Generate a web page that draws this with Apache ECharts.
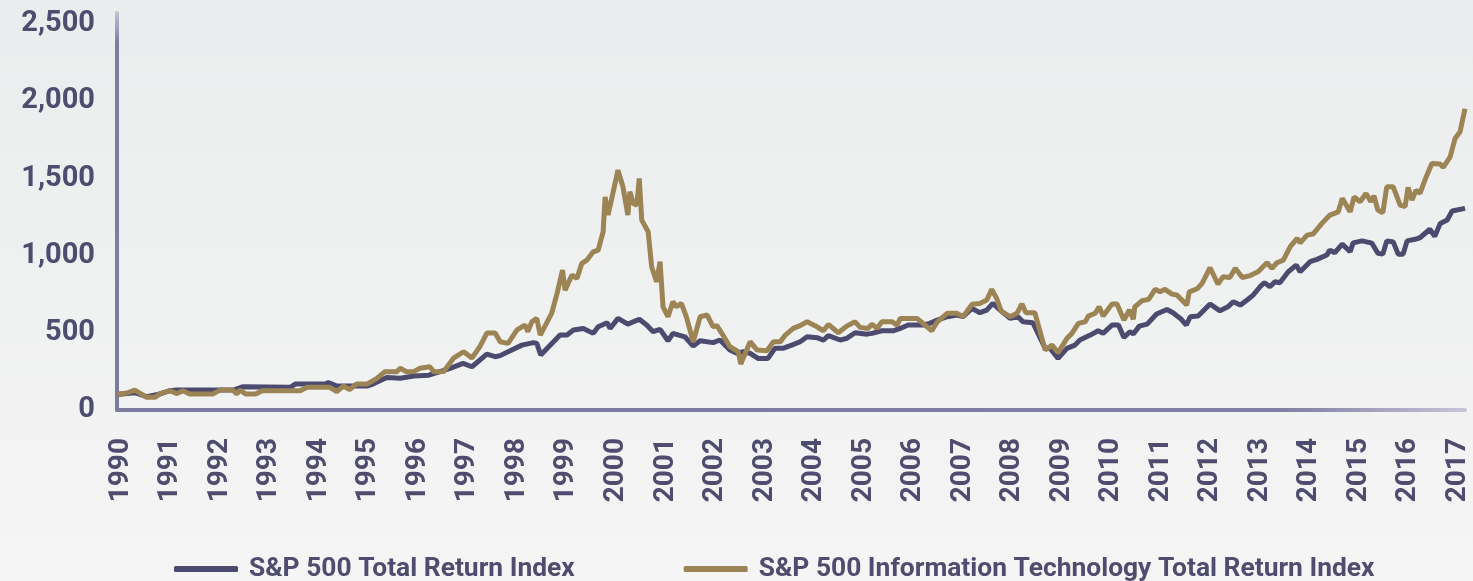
<!DOCTYPE html>
<html>
<head>
<meta charset="utf-8">
<script src="https://cdn.jsdelivr.net/npm/echarts@6/dist/echarts.min.js"></script>
<style>
  html, body { margin: 0; padding: 0; }
  #chart { width: 1473px; height: 581px; }
</style>
</head>
<body>
<div id="chart"></div>
<script>
// series names (legend)
var seriesNames = ["S&P 500 Total Return Index", "S&P 500 Information Technology Total Return Index"];

// year labels on the x axis
var yearTicks = [1990, 1991, 1992, 1993, 1994, 1995, 1996, 1997, 1998, 1999, 2000, 2001, 2002, 2003,
  2004, 2005, 2006, 2007, 2008, 2009, 2010, 2011, 2012, 2013, 2014, 2015, 2016, 2017];

// [decimal year, index value]
// (the readings were taken with the axis line as 1990.0; the series start a month earlier)
var readOffset = -0.08;

var sp500 = [
  [1990.0,100],[1990.36,112],[1990.6,86],[1990.87,104],[1991.07,125],[1991.2,129],[1991.9,129],
  [1992.35,129],[1992.55,151],[1993.5,147],[1993.6,168],[1994.2,168],[1994.27,177],[1994.44,155],
  [1995.05,155],[1995.17,168],[1995.45,211],[1995.72,205],[1996.0,220],[1996.3,225],[1996.73,270],
  [1996.99,302],[1997.17,280],[1997.47,362],[1997.64,345],[1997.74,352],[1997.9,377],[1998.18,420],
  [1998.41,436],[1998.48,431],[1998.56,356],[1998.95,485],[1999.09,485],[1999.22,518],[1999.42,528],
  [1999.62,496],[1999.72,539],[1999.9,565],[1999.96,528],[2000.12,593],[2000.32,556],[2000.43,571],
  [2000.55,587],[2000.7,550],[2000.83,507],[2000.97,522],[2001.13,448],[2001.23,496],[2001.47,474],
  [2001.64,414],[2001.78,448],[2002.04,436],[2002.18,453],[2002.38,388],[2002.52,367],[2002.65,377],
  [2002.79,367],[2002.95,334],[2003.15,334],[2003.29,399],[2003.45,399],[2003.63,420],[2003.8,442],
  [2003.94,474],[2004.14,468],[2004.27,453],[2004.37,481],[2004.61,453],[2004.74,464],[2004.91,500],
  [2005.15,491],[2005.25,496],[2005.45,513],[2005.68,513],[2005.82,528],[2005.98,550],[2006.29,550],
  [2006.42,561],[2006.57,582],[2006.77,604],[2006.97,615],[2007.09,604],[2007.27,658],[2007.43,630],
  [2007.57,647],[2007.69,690],[2007.84,647],[2008.04,593],[2008.2,604],[2008.3,571],[2008.5,565],
  [2008.75,399],[2008.85,399],[2009.01,334],[2009.19,399],[2009.35,420],[2009.45,453],[2009.66,485],
  [2009.82,513],[2009.92,496],[2010.1,550],[2010.23,550],[2010.34,470],[2010.46,507],[2010.53,492],
  [2010.65,543],[2010.81,556],[2011.0,621],[2011.21,651],[2011.33,630],[2011.5,587],[2011.6,550],
  [2011.68,604],[2011.84,608],[2012.08,686],[2012.28,642],[2012.44,668],[2012.55,701],[2012.69,679],
  [2012.83,712],[2012.95,744],[2013.09,798],[2013.18,824],[2013.29,798],[2013.39,830],[2013.49,824],
  [2013.66,895],[2013.82,938],[2013.9,895],[2014.1,960],[2014.24,975],[2014.44,1003],[2014.5,1035],
  [2014.6,1018],[2014.75,1074],[2014.91,1024],[2014.97,1082],[2015.15,1095],[2015.35,1080],
  [2015.47,1014],[2015.57,1009],[2015.65,1095],[2015.78,1088],[2015.88,1009],[2015.98,1009],
  [2016.06,1095],[2016.22,1105],[2016.32,1115],[2016.52,1170],[2016.62,1125],[2016.73,1208],
  [2016.87,1230],[2016.97,1288],[2017.23,1305]
];

var infoTech = [
  [1990.0,100],[1990.2,110],[1990.36,129],[1990.6,82],[1990.77,82],[1990.87,106],[1991.07,125],
  [1991.21,106],[1991.33,125],[1991.47,104],[1991.94,104],[1992.08,129],[1992.34,129],[1992.42,104],
  [1992.48,129],[1992.6,104],[1992.8,104],[1992.93,125],[1993.7,125],[1993.84,147],[1994.3,147],
  [1994.44,119],[1994.57,155],[1994.7,133],[1994.84,168],[1995.05,168],[1995.25,205],[1995.41,248],
  [1995.65,248],[1995.72,270],[1995.85,248],[1996.0,250],[1996.12,270],[1996.32,280],[1996.4,248],
  [1996.6,250],[1996.8,336],[1997.0,377],[1997.17,336],[1997.33,410],[1997.47,498],[1997.64,498],
  [1997.74,442],[1997.9,431],[1998.08,518],[1998.24,550],[1998.3,507],[1998.38,571],[1998.48,593],
  [1998.55,485],[1998.78,626],[1998.89,755],[1999.0,906],[1999.05,776],[1999.19,873],[1999.29,852],
  [1999.39,949],[1999.49,970],[1999.62,1024],[1999.72,1035],[1999.82,1154],[1999.86,1380],
  [1999.92,1262],[2000.12,1553],[2000.22,1445],[2000.32,1262],[2000.36,1413],[2000.43,1337],
  [2000.5,1326],[2000.55,1499],[2000.6,1229],[2000.73,1154],[2000.8,927],[2000.9,830],[2000.97,960],
  [2001.03,668],[2001.13,604],[2001.23,701],[2001.3,668],[2001.4,690],[2001.5,604],[2001.64,442],
  [2001.78,604],[2001.92,615],[2002.04,539],[2002.12,546],[2002.24,485],[2002.38,410],[2002.55,377],
  [2002.6,298],[2002.79,442],[2002.93,388],[2003.13,384],[2003.26,442],[2003.4,442],[2003.5,485],
  [2003.66,528],[2003.8,546],[2003.94,571],[2004.1,546],[2004.27,513],[2004.37,554],[2004.57,500],
  [2004.74,543],[2004.91,571],[2005.01,535],[2005.17,528],[2005.25,556],[2005.35,528],[2005.45,571],
  [2005.66,571],[2005.76,550],[2005.82,593],[2006.16,593],[2006.32,550],[2006.46,513],[2006.57,571],
  [2006.77,626],[2006.97,626],[2007.09,604],[2007.27,684],[2007.43,690],[2007.57,712],[2007.67,781],
  [2007.77,722],[2007.86,640],[2008.04,604],[2008.18,626],[2008.28,686],[2008.36,630],[2008.54,630],
  [2008.75,388],[2008.89,420],[2009.01,371],[2009.19,464],[2009.29,496],[2009.42,561],[2009.56,571],
  [2009.62,608],[2009.76,626],[2009.84,668],[2009.92,608],[2010.1,686],[2010.2,686],[2010.34,582],
  [2010.45,647],[2010.53,587],[2010.56,668],[2010.7,707],[2010.84,716],[2010.97,781],[2011.07,765],
  [2011.17,781],[2011.31,750],[2011.41,744],[2011.61,679],[2011.66,765],[2011.82,785],[2011.92,820],
  [2012.08,921],[2012.24,815],[2012.34,862],[2012.48,858],[2012.59,917],[2012.73,858],[2012.89,870],
  [2013.05,895],[2013.23,953],[2013.33,917],[2013.43,953],[2013.56,970],[2013.7,1057],[2013.84,1111],
  [2013.9,1082],[2014.04,1132],[2014.16,1139],[2014.34,1208],[2014.5,1262],[2014.67,1283],
  [2014.75,1370],[2014.91,1283],[2014.99,1380],[2015.11,1348],[2015.23,1402],[2015.33,1348],
  [2015.39,1387],[2015.47,1294],[2015.57,1277],[2015.65,1445],[2015.78,1445],[2015.92,1326],
  [2016.02,1316],[2016.08,1441],[2016.16,1359],[2016.24,1423],[2016.32,1402],[2016.42,1488],
  [2016.56,1596],[2016.73,1592],[2016.79,1570],[2016.93,1639],[2017.03,1758],[2017.13,1801],
  [2017.23,1950]
];

function shift(points) {
  return points.map(function (p) { return [p[0] + readOffset, p[1]]; });
}

var textColor = "#4f4c70";
var myChart = echarts.init(document.getElementById("chart"));

var option = {
  backgroundColor: new echarts.graphic.LinearGradient(0, 0, 0, 1, [
    { offset: 0, color: "#ebeced" },
    { offset: 1, color: "#f4f5f4" }
  ]),
  animation: false,
  color: ["#4c4a6e", "#9c8455"],
  grid: { left: 117, right: 8, top: 13, bottom: 171 },
  legend: {
    data: seriesNames,
    left: 169,
    top: 551,
    icon: "roundRect",
    itemWidth: 64,
    itemHeight: 6,
    itemGap: 109,
    textStyle: {
      color: textColor,
      fontFamily: "Roboto",
      fontWeight: "bold",
      fontSize: 26.4,
      padding: [0, 0, 0, 6]
    }
  },
  xAxis: {
    type: "value",
    min: 1990 + readOffset,
    max: 2017.23 + readOffset,
    splitLine: { show: false },
    axisTick: { show: false },
    axisLine: {
      lineStyle: {
        width: 4,
        color: new echarts.graphic.LinearGradient(0, 0, 1, 0, [
          { offset: 0, color: "#7d7ba0" },
          { offset: 0.86, color: "#7f7da2" },
          { offset: 1, color: "#c8c6d8" }
        ])
      }
    },
    axisLabel: {
      customValues: yearTicks,
      rotate: 90,
      margin: 28,
      color: textColor,
      fontFamily: "Roboto",
      fontWeight: "bold",
      fontSize: 28,
      formatter: function (v) { return String(Math.round(v)); }
    }
  },
  yAxis: {
    type: "value",
    min: 0,
    max: 2570,
    interval: 500,
    splitLine: { show: false },
    axisTick: { show: false },
    axisLine: {
      show: true,
      lineStyle: {
        width: 4,
        color: new echarts.graphic.LinearGradient(0, 0, 0, 1, [
          { offset: 0, color: "#c8c6d8" },
          { offset: 0.08, color: "#7f7da2" },
          { offset: 1, color: "#7d7ba0" }
        ])
      }
    },
    axisLabel: {
      margin: 22,
      showMaxLabel: false,
      color: textColor,
      fontFamily: "Roboto",
      fontWeight: "bold",
      fontSize: 29,
      formatter: function (v) { return v.toLocaleString("en-US"); }
    }
  },
  series: [
    {
      name: seriesNames[0],
      type: "line",
      data: shift(sp500),
      showSymbol: false,
      lineStyle: { width: 5 }
    },
    {
      name: seriesNames[1],
      type: "line",
      data: shift(infoTech),
      showSymbol: false,
      lineStyle: { width: 5 }
    }
  ]
};
myChart.setOption(option);
</script>
</body>
</html>
